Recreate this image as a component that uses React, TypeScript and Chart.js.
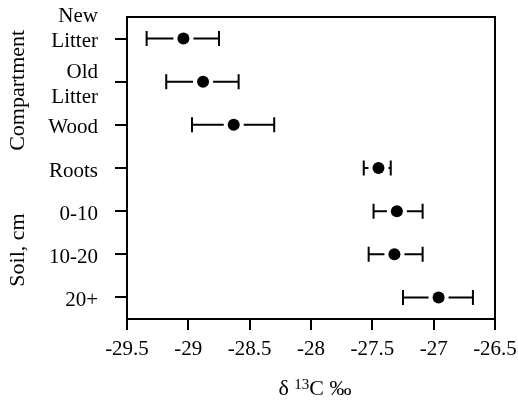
import React, { useEffect, useRef } from "react";
import { Chart, registerables } from "chart.js";

Chart.register(...registerables);

const categories: (string | string[])[] = [
  ["New", "Litter", ""],
  ["Old", "Litter"],
  "Wood",
  "Roots",
  "0-10",
  "10-20",
  "20+",
];
const meanValues = [-29.04, -28.88, -28.63, -27.45, -27.3, -27.32, -26.96];
const lowValues = [-29.34, -29.18, -28.97, -27.57, -27.49, -27.53, -27.25];
const highValues = [-28.75, -28.59, -28.3, -27.35, -27.09, -27.09, -26.68];
const xTickValues = [-29.5, -29, -28.5, -28, -27.5, -27, -26.5];
const groupTitles = ["Compartment", "Soil, cm"];
const groupCenters = [1.2, 4.9];
const xTitleParts = ["δ ", "13", "C ‰"];

const FONT = "'Liberation Serif', 'Times New Roman', serif";

const errorBars = {
  id: "errorBars",
  beforeDatasetsDraw(chart: any) {
    const { ctx, scales } = chart;
    const xs = scales.x;
    const ys = scales.y;
    ctx.save();
    ctx.strokeStyle = "#000";
    ctx.lineWidth = 2;
    for (let i = 0; i < meanValues.length; i++) {
      const y = ys.getPixelForValue(i);
      const xl = xs.getPixelForValue(lowValues[i]);
      const xh = xs.getPixelForValue(highValues[i]);
      const xm = xs.getPixelForValue(meanValues[i]);
      const gap = 10;
      ctx.beginPath();
      if (xm - gap > xl) {
        ctx.moveTo(xl, y);
        ctx.lineTo(xm - gap, y);
      }
      if (xh > xm + gap) {
        ctx.moveTo(xm + gap, y);
        ctx.lineTo(xh, y);
      }
      ctx.moveTo(xl, y - 7.5);
      ctx.lineTo(xl, y + 7.5);
      ctx.moveTo(xh, y - 7.5);
      ctx.lineTo(xh, y + 7.5);
      ctx.stroke();
    }
    ctx.restore();
  },
  afterDraw(chart: any) {
    const { ctx, chartArea, scales } = chart;
    ctx.save();
    ctx.strokeStyle = "#000";
    ctx.lineWidth = 2;
    ctx.strokeRect(
      chartArea.left,
      chartArea.top,
      chartArea.right - chartArea.left,
      chartArea.bottom - chartArea.top
    );
    ctx.fillStyle = "#000";
    ctx.font = `22px ${FONT}`;
    ctx.textAlign = "center";
    ctx.textBaseline = "middle";
    for (let g = 0; g < groupTitles.length; g++) {
      const y = scales.y.getPixelForValue(groupCenters[g]);
      ctx.save();
      ctx.translate(18, y);
      ctx.rotate(-Math.PI / 2);
      ctx.fillText(groupTitles[g], 0, 0);
      ctx.restore();
    }
    // x-axis title with a real superscript
    const big = `22px ${FONT}`;
    const small = `15px ${FONT}`;
    ctx.textAlign = "left";
    ctx.textBaseline = "alphabetic";
    ctx.font = big;
    const w0 = ctx.measureText(xTitleParts[0]).width;
    const w2 = ctx.measureText(xTitleParts[2]).width;
    ctx.font = small;
    const w1 = ctx.measureText(xTitleParts[1]).width;
    const total = w0 + w1 + w2;
    const cx = (chartArea.left + chartArea.right) / 2 + 4;
    const baseY = 395;
    let x = cx - total / 2;
    ctx.font = big;
    ctx.fillText(xTitleParts[0], x, baseY);
    x += w0;
    ctx.font = small;
    ctx.fillText(xTitleParts[1], x, baseY - 6);
    x += w1;
    ctx.font = big;
    ctx.fillText(xTitleParts[2], x, baseY);
    ctx.restore();
  },
};

export default function App() {
  const ref = useRef<HTMLCanvasElement>(null);
  useEffect(() => {
    if (!ref.current) return;
    const chart = new Chart(ref.current, {
      type: "line",
      data: {
        labels: categories as any,
        datasets: [
          {
            data: meanValues,
            showLine: false,
            pointRadius: 6,
            pointHoverRadius: 6,
            pointBackgroundColor: "#000",
            pointBorderWidth: 0,
            borderColor: "#000",
          },
        ],
      },
      options: {
        indexAxis: "y",
        animation: false,
        responsive: false,
        devicePixelRatio: 1,
        events: [],
        layout: { padding: { top: 17, right: 23, bottom: 0, left: 0 } },
        plugins: {
          legend: { display: false },
          tooltip: { enabled: false },
        },
        scales: {
          x: {
            type: "linear",
            position: "bottom",
            min: -29.5,
            max: -26.5,
            afterBuildTicks(scale: any) {
              scale.ticks = xTickValues.map((v) => ({ value: v }));
            },
            afterFit(scale: any) {
              scale.height = 81;
              scale.paddingLeft = 0;
              scale.paddingRight = 0;
            },
            ticks: {
              color: "#000",
              font: { family: FONT, size: 21 },
              padding: 7,
              maxRotation: 0,
              autoSkip: false,
              callback: (v: any) => String(v),
            },
            grid: {
              display: true,
              drawOnChartArea: false,
              drawTicks: true,
              tickLength: 11,
              color: "#000",
              lineWidth: 2,
            },
            border: { display: true, color: "#000", width: 2 },
          },
          y: {
            type: "category",
            position: "left",
            offset: true,
            afterFit(scale: any) {
              scale.width = 127;
              scale.paddingTop = 0;
              scale.paddingBottom = 0;
            },
            ticks: {
              color: "#000",
              font: { family: FONT, size: 21, lineHeight: 1.2 },
              padding: 17,
              labelOffset: 3,
              autoSkip: false,
            },
            grid: {
              display: true,
              offset: false,
              drawOnChartArea: false,
              drawTicks: true,
              tickLength: 12,
              color: "#000",
              lineWidth: 2,
            },
            border: { display: true, color: "#000", width: 2 },
          },
        },
      },
      plugins: [errorBars],
    });
    return () => chart.destroy();
  }, []);
  return (
    <div style={{ position: "absolute", left: 0, top: 0, width: 518, height: 400, background: "#fff" }}>
      <canvas ref={ref} width={518} height={400} style={{ display: "block" }} />
    </div>
  );
}
